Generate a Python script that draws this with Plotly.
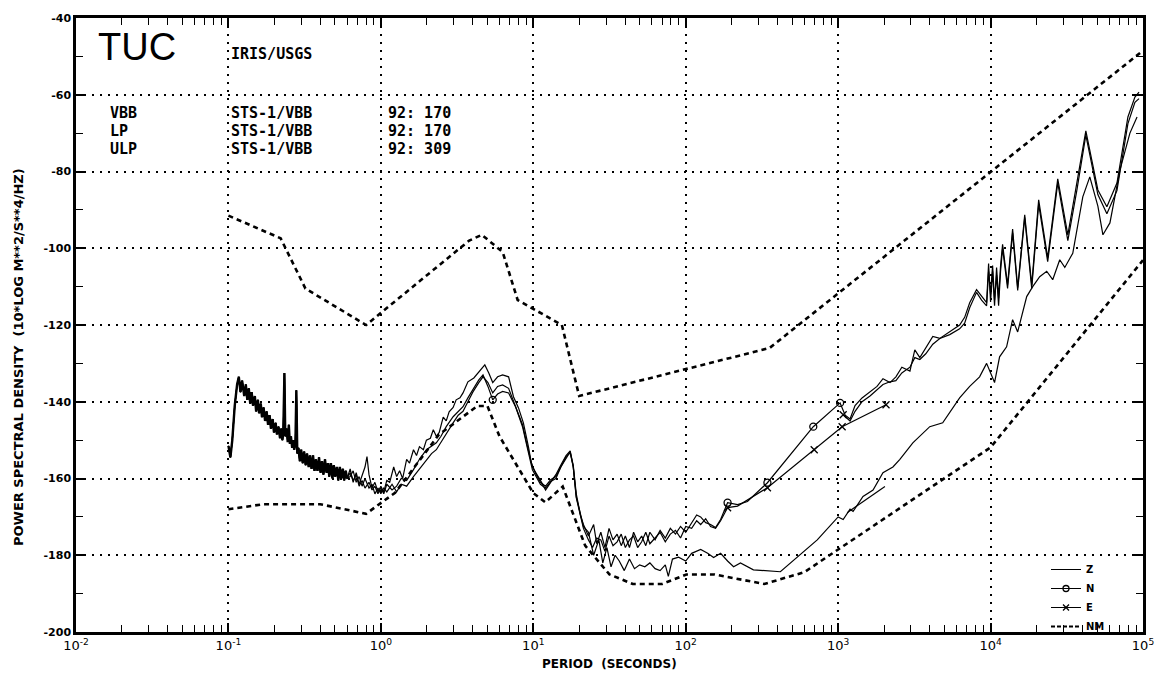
import plotly.graph_objects as go

# ---------------- data (period in seconds, PSD in dB) ----------------
# common VBB section (all three components overlap)
vbb_period = [0.100, 0.103, 0.106, 0.110, 0.114, 0.117, 0.120, 0.123, 0.127, 0.130,
              0.133, 0.136, 0.139, 0.142, 0.145, 0.149, 0.152, 0.156, 0.159, 0.163,
              0.166, 0.170, 0.174, 0.178, 0.182, 0.186, 0.190, 0.195, 0.199, 0.204,
              0.208, 0.213, 0.218, 0.222, 0.226, 0.229, 0.233, 0.236, 0.241, 0.245,
              0.249, 0.253, 0.257, 0.262, 0.266, 0.270, 0.275, 0.279, 0.283, 0.288,
              0.294, 0.300, 0.307, 0.314, 0.321, 0.328, 0.336, 0.343, 0.351, 0.359,
              0.367, 0.375, 0.384, 0.393, 0.402, 0.411, 0.420, 0.430, 0.440, 0.450,
              0.459, 0.470, 0.481, 0.491, 0.502, 0.514, 0.526, 0.538, 0.550, 0.563,
              0.575, 0.588, 0.601]
vbb_db = [-151.5, -154.5, -150.0, -141.0, -135.5, -133.5, -137.5, -134.5, -138.5, -135.5,
          -139.5, -136.5, -140.5, -137.5, -141.0, -138.5, -142.5, -139.5, -143.0, -140.5,
          -144.0, -141.5, -145.0, -142.5, -146.0, -143.5, -147.0, -144.5, -148.0, -145.5,
          -148.5, -146.5, -149.5, -147.0, -150.0, -148.0, -132.5, -149.0, -147.0, -150.5,
          -146.0, -151.0, -149.0, -152.0, -150.0, -152.5, -151.0, -137.0, -153.5, -152.0,
          -155.5, -152.5, -156.0, -153.0, -156.5, -153.5, -157.0, -154.0, -157.5, -154.0,
          -158.0, -155.0, -158.0, -154.5, -158.5, -155.5, -159.0, -155.0, -158.5, -156.0,
          -159.5, -156.0, -160.0, -156.5, -159.5, -157.0, -160.5, -157.0, -160.0, -157.5,
          -160.5, -158.0, -160.0]

# Z component (after the common section)
z_period = [0.629, 0.658, 0.689, 0.720, 0.753, 0.787, 0.811, 0.836, 0.875, 0.914,
            0.957, 1.0, 1.045, 1.094, 1.143, 1.214, 1.269, 1.328, 1.390, 1.476,
            1.542, 1.637, 1.714, 1.791, 1.901, 1.990, 2.113, 2.208, 2.312, 2.415,
            2.565, 2.685, 2.805, 2.979, 3.119, 3.304, 3.459, 3.724, 4.074, 4.529,
            4.808, 5.105, 5.420, 5.834, 6.294, 6.887, 7.413, 7.998, 8.610, 9.290,
            9.706, 10.31, 11.14, 12.04, 13.0, 14.06, 15.17, 16.40, 17.46, 18.28,
            19.14, 20.37, 21.33, 23.01, 24.89, 26.92, 28.58, 30.41, 32.36, 34.43,
            36.64, 39.54, 42.76, 46.13, 49.89, 53.95, 58.21, 62.95, 67.92, 73.45,
            76.91, 81.85, 89.74, 100, 109.4, 125.3, 139.3, 152.4, 169.4, 188.2,
            206.1, 228.6, 278.0, 417.8, 539.5, 729.5, 1000, 1079, 1197, 1253,
            1456, 1694, 1968, 2288, 2541, 3090, 3991, 4853, 6266, 7295,
            8472, 9419, 10620, 11460, 12740, 13950, 15060, 17260, 18900, 21000,
            23350, 25570, 28430, 30680, 34610, 36790, 40270, 44770, 50580, 54580,
            60670, 70630, 82060, 91410]
z_db = [-157.5, -161.0, -158.5, -161.5, -159.5, -157.0, -154.3, -159.0, -162.5, -161.0,
        -163.5, -162.0, -163.5, -160.5, -161.0, -157.0, -159.5, -158.0, -160.0, -155.0,
        -156.0, -152.5, -154.0, -151.7, -152.5, -150.0, -149.5, -147.3, -149.0, -148.0,
        -144.0, -145.0, -142.6, -141.5, -139.5, -139.0, -137.7, -134.8, -133.8, -131.7,
        -130.4, -132.5, -135.0, -133.5, -133.0, -133.5, -138.7, -141.6, -145.5, -151.7,
        -155.9, -158.5, -161.0, -162.0, -160.3, -159.5, -156.9, -154.3, -153.3, -156.9,
        -164.7, -168.9, -172.5, -174.0, -180.0, -176.0, -182.0, -178.0, -183.0, -180.0,
        -181.5, -184.0, -181.0, -183.5, -182.5, -183.0, -182.0, -183.5, -184.0, -182.5,
        -185.5, -181.0, -180.5, -181.5, -179.5, -178.5, -179.5, -180.6, -179.5, -181.5,
        -183.0, -182.0, -183.8, -184.3, -180.6, -176.0, -170.0, -170.7, -168.0, -168.6,
        -164.7, -163.0, -158.5, -157.0, -155.0, -150.7, -146.5, -145.5, -139.0, -136.0,
        -133.5, -130.0, -135.0, -128.3, -125.7, -118.6, -121.8, -112.6, -110.0, -107.4,
        -106.0, -108.2, -103.0, -105.0, -101.3, -95.2, -86.6, -81.4, -89.0, -96.5,
        -93.4, -79.6, -70.0, -65.8]
z_ulp_period = [1146, 1456, 2028]
z_ulp_db = [-168.9, -166.0, -162.1]

# N component
n_period = [0.629, 0.658, 0.689, 0.720, 0.753, 0.787, 0.836, 0.875, 0.914, 0.957,
            1.0, 1.045, 1.094, 1.184, 1.269, 1.360, 1.476, 1.637, 1.791, 1.990,
            2.150, 2.312, 2.480, 2.685, 2.979, 3.217, 3.459, 3.724, 4.010, 4.390,
            4.680, 5.040, 5.420, 5.834, 6.294, 6.887, 7.650, 8.500, 9.100, 9.870,
            11.14, 12.04, 13.0, 14.06, 15.17, 16.40, 17.46, 18.28, 19.14, 20.37,
            21.33, 23.01, 24.89, 26.06, 27.74, 29.51, 31.40, 33.34, 35.48, 37.76,
            40.18, 42.76, 45.50, 48.39, 51.40, 54.70, 58.21, 62.95, 67.92, 73.45,
            79.25, 85.70, 92.47, 100, 109.4, 118.0, 125.3, 135.2, 145.6, 157.0,
            169.4, 179.9, 188.2, 218.8, 254.1, 343.6, 686.9, 1030, 1112, 1197,
            1291, 1435, 1618, 1799, 1968, 2188, 2393, 2618, 2958, 3184,
            3436, 3758, 4178, 4645, 5395, 6266, 6761, 7295, 8091, 8730,
            9419, 9705, 10000, 10310, 10620, 10950, 11290, 11630, 11990, 12930,
            13950, 15060, 16750, 18620, 20680, 23700, 27590, 32130, 36790, 42170,
            50580, 57950, 67470, 79620, 88510, 94190]
n_db = [-158.5, -160.5, -159.0, -162.0, -160.5, -162.5, -161.0, -163.0, -162.0, -164.0,
        -162.5, -164.0, -161.5, -163.0, -162.0, -160.0, -160.5, -157.7, -155.0, -152.5,
        -151.5, -150.7, -149.0, -146.5, -143.9, -142.5, -141.3, -139.0, -136.9, -134.3,
        -133.0, -136.0, -139.5, -138.0, -137.3, -137.7, -141.3, -146.5, -151.7, -157.7,
        -161.5, -162.5, -160.8, -160.0, -157.0, -154.8, -153.0, -156.5, -164.0, -169.5,
        -172.0, -175.0, -172.0, -177.0, -174.0, -178.0, -173.0, -176.0, -174.5, -177.5,
        -175.0, -178.0, -174.0, -176.5, -175.0, -177.5, -174.0, -176.0, -173.5, -175.5,
        -173.0, -174.5, -172.5, -174.0, -171.5, -169.5, -170.0, -171.5, -172.0, -172.8,
        -170.7, -168.0, -166.3, -166.8, -166.0, -161.1, -146.5, -140.3, -143.5, -144.5,
        -141.0, -139.0, -137.5, -136.0, -134.0, -135.0, -133.5, -131.0, -132.0, -126.5,
        -128.5, -126.0, -123.0, -123.5, -121.7, -120.0, -118.0, -114.2, -110.8, -112.6,
        -114.2, -104.0, -114.0, -106.0, -115.0, -105.0, -113.0, -104.5, -99.0, -109.5,
        -95.0, -110.3, -91.3, -109.5, -87.4, -102.5, -81.9, -96.5, -83.0, -69.4,
        -84.8, -89.2, -83.0, -65.8, -60.6, -59.3]
n_mark_period = [5.42, 188.2, 343.6, 686.9, 1030]
n_mark_db = [-139.5, -166.3, -161.1, -146.5, -140.3]

# E component (VBB/LP part, then separate long-period part)
e_period = [0.629, 0.658, 0.689, 0.720, 0.753, 0.787, 0.836, 0.875, 0.914, 0.957,
            1.0, 1.045, 1.094, 1.184, 1.269, 1.360, 1.476, 1.637, 1.791, 1.990,
            2.150, 2.312, 2.480, 2.685, 2.979, 3.217, 3.459, 3.724, 4.010, 4.390,
            4.680, 5.040, 5.420, 5.834, 6.294, 6.887, 7.650, 8.500, 9.100, 9.870,
            11.14, 12.04, 13.0, 14.06, 15.17, 16.40, 17.46, 18.28, 19.14, 20.37,
            21.33, 23.01, 24.49, 26.06, 27.74, 29.51, 31.40, 33.34, 35.48, 37.76,
            40.18, 42.76, 45.50, 48.39, 51.40, 54.70, 58.21, 62.95, 67.92, 73.45,
            79.25, 85.70, 92.47, 100, 109.4, 118.0, 125.3, 135.2, 145.6, 157.0,
            169.4, 188.2, 218.8, 343.6, 696.6, 1062, 2061]
e_db = [-159.5, -158.0, -161.0, -159.5, -162.0, -160.0, -162.5, -161.5, -164.0, -162.5,
        -164.0, -162.5, -163.5, -161.5, -163.5, -161.5, -162.0, -159.5, -157.5, -155.0,
        -153.5, -152.5, -150.5, -148.5, -145.5, -143.5, -142.5, -140.0, -137.5, -135.0,
        -133.5, -135.0, -137.7, -136.0, -135.6, -136.5, -141.0, -146.0, -151.2, -157.0,
        -160.5, -163.0, -161.0, -159.0, -156.5, -154.0, -152.8, -157.0, -165.0, -170.0,
        -173.0, -176.0, -178.0, -175.5, -176.0, -179.0, -175.0, -177.5, -176.5, -174.5,
        -178.0, -176.0, -175.0, -178.0, -176.5, -174.0, -177.0, -175.5, -174.0, -176.5,
        -174.5, -173.5, -175.5, -172.5, -173.0, -171.0, -172.0, -170.5, -172.5, -173.0,
        -171.0, -167.6, -167.2, -162.4, -152.5, -146.5, -140.8]
e2_period = [1079, 1197, 1291, 1435, 1618, 1799, 1968, 2188, 2393, 2618,
             2958, 3184, 3436, 3758, 4178, 4645, 5395, 6266, 6761, 7295,
             8091, 8730, 9419, 9705, 10000, 10310, 10620, 10950, 11290, 11630,
             11990, 12930, 13950, 15060, 16750, 18620, 20680, 23700, 27590, 32130,
             36790, 42170, 50580, 57950, 67470, 79620, 88510, 94190]
e2_db = [-143.4, -145.0, -142.5, -140.0, -138.5, -137.0, -135.5, -134.8, -134.5, -132.5,
         -131.0, -128.5, -129.0, -127.5, -125.0, -123.5, -122.5, -121.0, -119.5, -115.5,
         -111.5, -113.5, -115.0, -106.0, -112.0, -104.5, -113.5, -107.0, -115.0, -106.0,
         -100.0, -110.5, -96.0, -111.0, -92.0, -110.5, -88.5, -103.5, -83.0, -98.0,
         -85.0, -70.5, -86.0, -91.0, -85.0, -67.5, -62.0, -61.0]
e_mark_period = [188.2, 343.6, 696.6, 1062, 2061, 1079]
e_mark_db = [-167.6, -162.4, -152.5, -146.5, -140.8, -143.4]

# Peterson new high / low noise models (NM)
nhnm_period = [0.1, 0.22, 0.32, 0.8, 3.8, 4.6, 6.3, 7.9, 15.4, 20.0, 354.8, 100000]
nhnm_db = [-91.5, -97.4, -110.5, -120.0, -98.0, -96.5, -101.0, -113.5, -120.0, -138.5, -126.0, -48.5]
nlnm_period = [0.1, 0.17, 0.4, 0.8, 1.24, 2.4, 4.3, 5.0, 6.0, 10.0, 12.0, 15.6, 21.9,
               31.6, 45.0, 70.0, 101.0, 154.0, 328.0, 600.0, 10000, 100000]
nlnm_db = [-168.0, -166.7, -166.7, -169.2, -163.7, -148.6, -141.1, -141.1, -149.0, -163.8,
           -166.2, -162.1, -177.5, -185.0, -187.5, -187.5, -185.0, -185.0, -187.5, -184.4,
           -151.9, -103.1]

x_tick_vals = [0.01, 0.1, 1, 10, 100, 1000, 10000, 100000]
x_tick_text = ["10<sup>-2</sup>", "10<sup>-1</sup>", "10<sup>0</sup>", "10<sup>1</sup>",
               "10<sup>2</sup>", "10<sup>3</sup>", "10<sup>4</sup>", "10<sup>5</sup>"]
y_tick_vals = [-40, -60, -80, -100, -120, -140, -160, -180, -200]
y_tick_text = ["-40", "-60", "-80", "-100", "-120", "-140", "-160", "-180", "-200"]

header_rows = [("VBB", "STS-1/VBB", "92: 170"),
               ("LP", "STS-1/VBB", "92: 170"),
               ("ULP", "STS-1/VBB", "92: 309")]

# ---------------- figure ----------------
BLACK = "black"
LW = 1.2
fig = go.Figure()

def line_trace(px, py, width=LW, dash="solid"):
    return go.Scatter(x=px, y=py, mode="lines", showlegend=False, hoverinfo="skip",
                      line=dict(color=BLACK, width=width, dash=dash))

nm_dash = "5px,4px"
fig.add_trace(line_trace(nhnm_period, nhnm_db, 2.6, nm_dash))
fig.add_trace(line_trace(nlnm_period, nlnm_db, 2.6, nm_dash))

fig.add_trace(line_trace(vbb_period + z_period, vbb_db + z_db))
fig.add_trace(line_trace(z_ulp_period, z_ulp_db))
fig.add_trace(line_trace(vbb_period + n_period, vbb_db + n_db))
fig.add_trace(line_trace(vbb_period + e_period, vbb_db + e_db))
fig.add_trace(line_trace(e2_period, e2_db))
fig.add_trace(line_trace(vbb_period, vbb_db, 2.4))

fig.add_trace(go.Scatter(x=n_mark_period, y=n_mark_db, mode="markers", showlegend=False,
                         hoverinfo="skip",
                         marker=dict(symbol="circle-open", size=7, color=BLACK,
                                     line=dict(width=1.3, color=BLACK))))
fig.add_trace(go.Scatter(x=e_mark_period, y=e_mark_db, mode="markers", showlegend=False,
                         hoverinfo="skip",
                         marker=dict(symbol="x-thin", size=7, color=BLACK,
                                     line=dict(width=1.3, color=BLACK))))

# legend entries
fig.add_trace(go.Scatter(x=[None], y=[None], mode="lines", name="Z",
                         line=dict(color=BLACK, width=1)))
fig.add_trace(go.Scatter(x=[None], y=[None], mode="lines+markers", name="N",
                         line=dict(color=BLACK, width=1),
                         marker=dict(symbol="circle-open", size=6, color=BLACK,
                                     line=dict(width=1.3, color=BLACK))))
fig.add_trace(go.Scatter(x=[None], y=[None], mode="lines+markers", name="E",
                         line=dict(color=BLACK, width=1),
                         marker=dict(symbol="x-thin", size=6, color=BLACK,
                                     line=dict(width=1.3, color=BLACK))))
fig.add_trace(go.Scatter(x=[None], y=[None], mode="lines", name="NM",
                         line=dict(color=BLACK, width=2.2, dash="4px,2px")))

TXT = dict(family="DejaVu Sans Mono", size=15, color=BLACK, weight="bold")

# plot area in window pixels: x 76..1143, y 18..632
def px_x(px):
    return (px - 76) / 1067.0

def px_y(py):
    return (632 - py) / 614.0

annotations = [
    dict(text="TUC", x=px_x(96), y=px_y(47), xanchor="left", yanchor="middle",
         font=dict(family="Liberation Sans", size=38, color=BLACK)),
    dict(text="IRIS/USGS", x=px_x(229), y=px_y(54), xanchor="left", yanchor="middle",
         font=TXT),
]
row_y = [113, 131, 149]
for (a, b, c), yy in zip(header_rows, row_y):
    annotations.append(dict(text=a, x=px_x(108), y=px_y(yy), xanchor="left", yanchor="middle", font=TXT))
    annotations.append(dict(text=b, x=px_x(229), y=px_y(yy), xanchor="left", yanchor="middle", font=TXT))
    annotations.append(dict(text=c, x=px_x(386), y=px_y(yy), xanchor="left", yanchor="middle", font=TXT))

annotations.append(dict(text="PERIOD  (SECONDS)", x=0.5, y=px_y(664), xanchor="center",
                        yanchor="middle",
                        font=dict(family="DejaVu Sans", size=12, color=BLACK, weight="bold")))
annotations.append(dict(text="POWER SPECTRAL DENSITY  (10*LOG M**2/S**4/HZ)", textangle=-90,
                        x=px_x(18), y=px_y(357), xanchor="center", yanchor="middle",
                        font=dict(family="DejaVu Sans", size=13, color=BLACK, weight="bold")))
for a in annotations:
    a.setdefault("xref", "paper")
    a.setdefault("yref", "paper")
    a["showarrow"] = False

minor_x = [k * 10.0 ** e for e in range(-2, 5) for k in range(2, 10)]

fig.update_layout(
    width=1175, height=683,
    margin=dict(l=76, r=32, t=18, b=51),
    paper_bgcolor="white", plot_bgcolor="white",
    annotations=annotations,
    showlegend=True,
    legend=dict(x=px_x(1046), y=px_y(555), xanchor="left", yanchor="top",
                bgcolor="rgba(0,0,0,0)", borderwidth=0, traceorder="normal",
                font=dict(family="DejaVu Sans", size=10, color=BLACK, weight="bold"),
                itemwidth=30),
    xaxis=dict(type="log", range=[-2, 5], tickmode="array", tickvals=x_tick_vals,
               ticktext=x_tick_text, showgrid=True, gridcolor=BLACK, gridwidth=1.5,
               griddash="2px,6px", ticks="inside", ticklen=9, tickwidth=1.5,
               tickcolor=BLACK, showline=True, linecolor=BLACK, linewidth=2.5,
               mirror="allticks", zeroline=False,
               tickfont=dict(family="DejaVu Sans", size=13, color=BLACK),
               minor=dict(tickmode="array", tickvals=minor_x, ticks="inside", ticklen=7,
                          tickwidth=1.3, tickcolor=BLACK, showgrid=False)),
    yaxis=dict(range=[-200, -40], tickmode="array", tickvals=y_tick_vals,
               ticktext=y_tick_text, showgrid=True, gridcolor=BLACK, gridwidth=1.5,
               griddash="2px,6px", ticks="inside", ticklen=9, tickwidth=1.5,
               tickcolor=BLACK, showline=True, linecolor=BLACK, linewidth=2.5,
               mirror="allticks", zeroline=False,
               tickfont=dict(family="DejaVu Sans", size=11, color=BLACK, weight="bold"),
               minor=dict(dtick=10, ticks="inside", ticklen=7, tickwidth=1.3,
                          tickcolor=BLACK, showgrid=False)),
)

# remove the default page margin so the figure fills the window exactly
fig.write_html("out.html", config={"displayModeBar": False},
               post_script="document.body.style.margin='0px';")
